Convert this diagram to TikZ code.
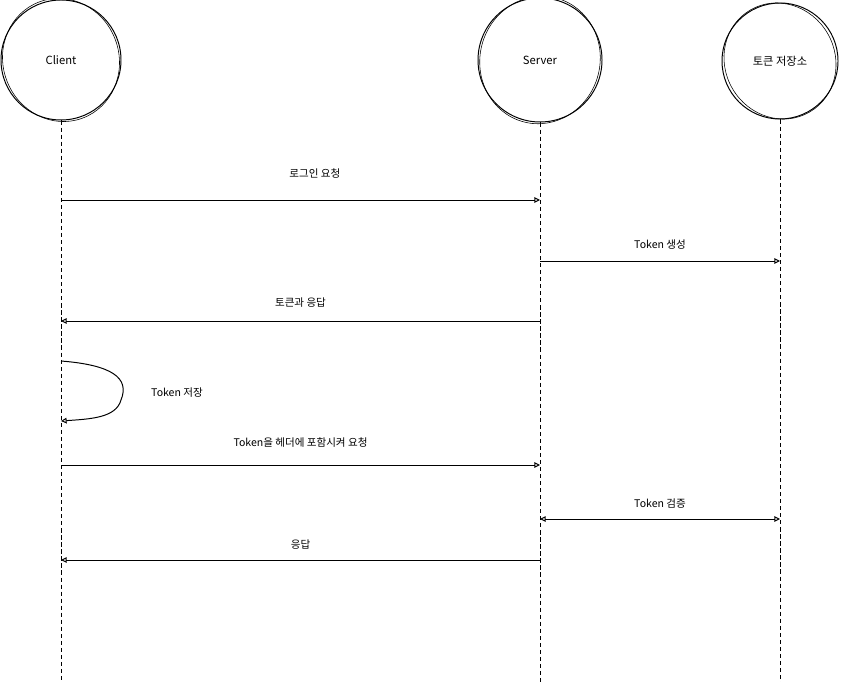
\documentclass[tikz,border=0pt]{standalone}
\usepackage{fontspec}
\setmainfont{Liberation Sans}
\newfontfamily\kofont{Noto Sans CJK KR}
\usetikzlibrary{arrows.meta}
\tikzset{
  actor/.style={draw, circle, minimum size=120*0.025cm, inner sep=0pt, font=\kofont\fontsize{8}{9}\selectfont, line width=0.7pt},
  lifeline/.style={dashed, line width=0.6pt, dash pattern=on 3pt off 2pt},
  msg/.style={-{Triangle[open, length=4pt, width=4pt]}, line width=0.7pt},
  lbl/.style={font=\kofont\fontsize{7.5}{9}\selectfont, inner sep=1pt}
}
\begin{document}
\begin{tikzpicture}[x=0.025cm, y=-0.025cm]
  \useasboundingbox (0,0) rectangle (841,682);
  % Participants
  \node[actor] (client) at (61,60) {Client};
  \draw[line width=0.4pt, rotate around={20:(61,60)}] (61,60) ellipse (58 and 62);
  \node[actor, minimum size=124*0.025cm] (server) at (540,60) {Server};
  \draw[line width=0.4pt, rotate around={-15:(540,60)}] (540,60) ellipse (60 and 64);
  \node[actor, minimum size=116*0.025cm] (store) at (780,61) {토큰 저장소};
  \draw[line width=0.4pt, rotate around={30:(780,61)}] (780,61) ellipse (55 and 59);
  % Lifelines
  \coordinate (bottom) at (0,682);
  \draw[lifeline] (client.south) -- (client.south |- bottom);
  \draw[lifeline] (server.south) -- (server.south |- bottom);
  \draw[lifeline] (store.south) -- (store.south |- bottom);
  % Message points on the lifelines
  \coordinate (c1) at (61,200);  \coordinate (s1) at (540,200);
  \coordinate (s2) at (540,261); \coordinate (t2) at (780,261);
  \coordinate (s3) at (540,321); \coordinate (c3) at (61,321);
  \coordinate (c4a) at (61,361); \coordinate (c4b) at (61,421);
  \coordinate (c5) at (61,465);  \coordinate (s5) at (540,465);
  \coordinate (s6) at (540,519); \coordinate (t6) at (780,519);
  \coordinate (s7) at (540,560); \coordinate (c7) at (61,560);
  % Messages
  \draw[msg] (c1) -- (s1) node[lbl, pos=0.53, above=14pt] (m1) {로그인 요청};
  \draw[msg] (s2) -- (t2) node[lbl, midway, above=7pt] (m2) {Token 생성};
  \draw[msg] (s3) -- (c3) node[lbl, midway, above=8.5pt] (m3) {토큰과 응답};
  \draw[msg] (c4a) .. controls (112,365) and (130,378) .. (121,400) .. controls (116,418) and (90,419) .. (c4b);
  \node[lbl] (m4) at (177,393) {Token 저장};
  \draw[msg] (c5) -- (s5) node[lbl, midway, above=11pt] (m5) {Token을 헤더에 포함시켜 요청};
  \draw[msg, {Triangle[open, length=4pt, width=4pt]}-{Triangle[open, length=4pt, width=4pt]}] (s6) -- (t6) node[lbl, midway, above=6pt] (m6) {Token 검증};
  \draw[msg] (s7) -- (c7) node[lbl, midway, above=6pt] (m7) {응답};
\end{tikzpicture}
\end{document}
